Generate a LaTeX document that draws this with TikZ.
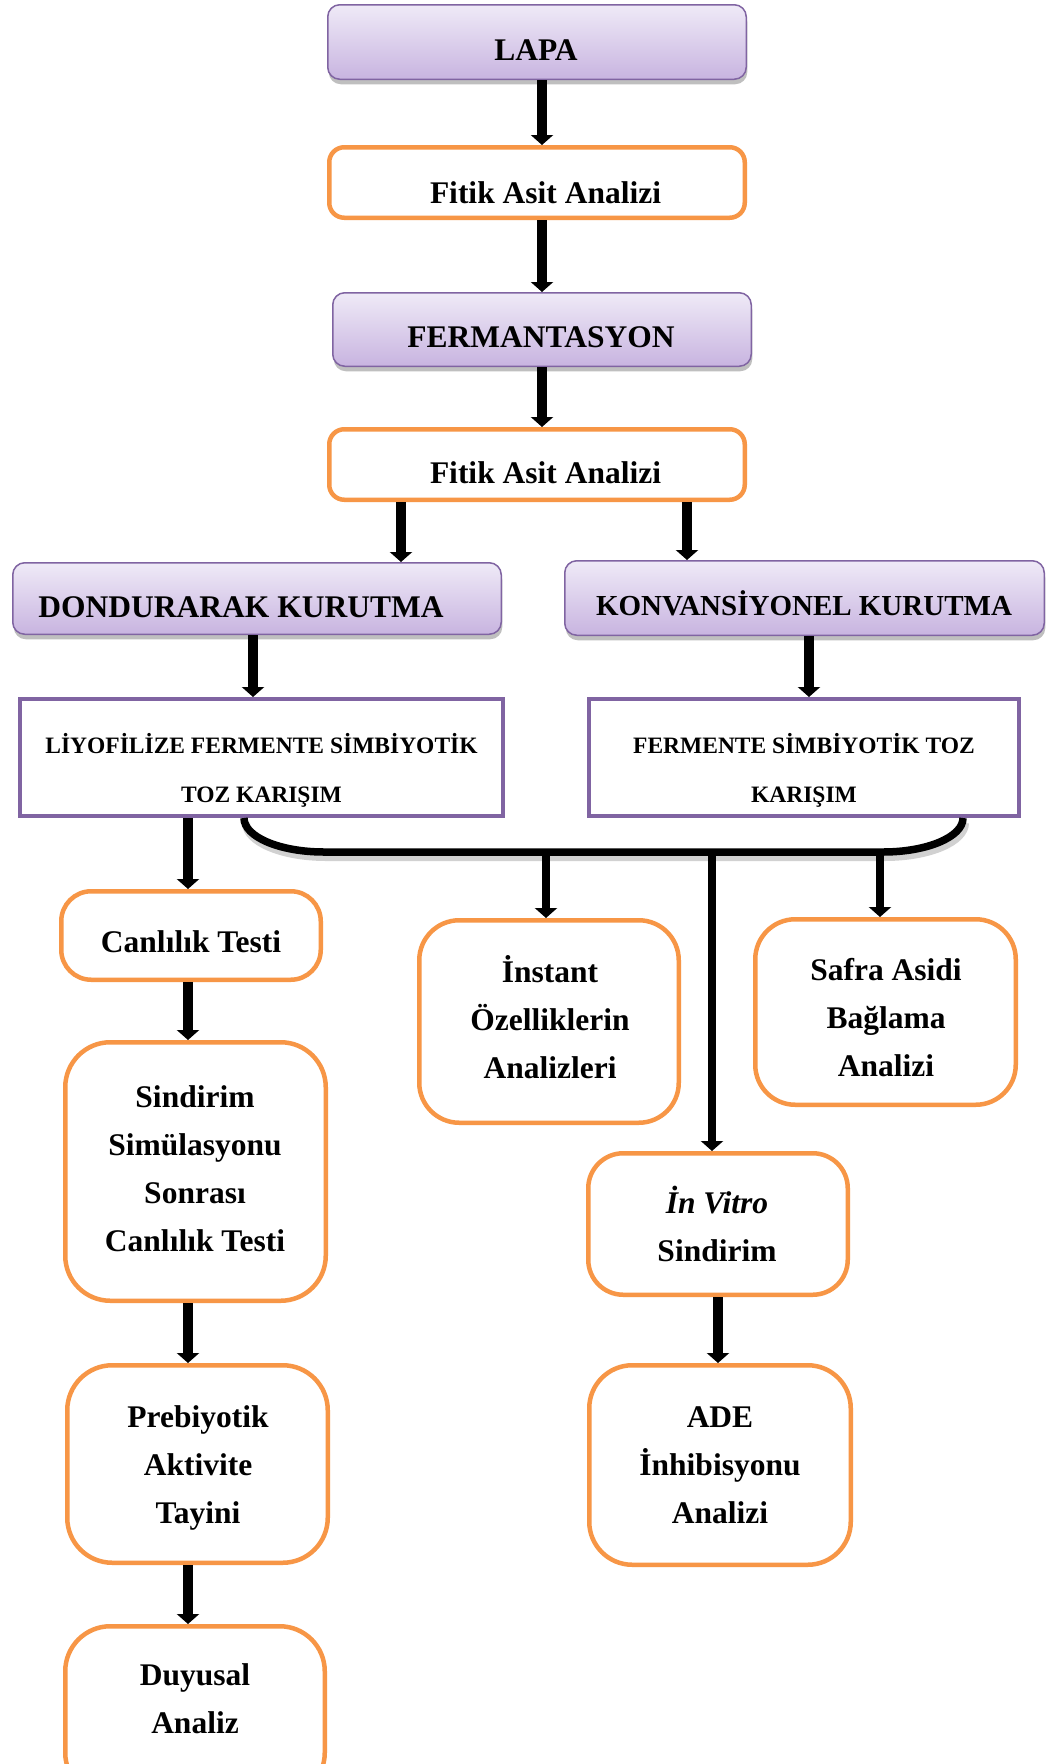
\documentclass[tikz,border=0pt]{standalone}
\usepackage{fontspec}
\setmainfont{Liberation Serif}
\usetikzlibrary{arrows.meta,shadows}
\definecolor{orng}{HTML}{F79646}
\definecolor{purp}{HTML}{8064A2}
\definecolor{ptop}{HTML}{EFEAF7}
\definecolor{pbot}{HTML}{C8B4E0}
\begin{document}
\begin{tikzpicture}[x=1pt,y=-1pt,
  pbox/.style={draw=purp, line width=1.5pt, rounded corners=12pt, top color=ptop, bottom color=pbot,
    drop shadow={shadow xshift=1pt, shadow yshift=-5pt, opacity=0.25, fill=black},
    inner sep=0pt, minimum width=#1},
  rbox/.style={draw=purp, line width=4pt, fill=white, inner sep=0pt, minimum height=117pt},
  obox/.style={draw=orng, line width=4.5pt, fill=white, inner sep=0pt},
  txt/.style={font=\bfseries\fontsize{31.5}{48}\selectfont, align=center, inner sep=0pt, anchor=base},
  stxt/.style={font=\bfseries\fontsize{23.5}{49}\selectfont, align=center, inner sep=0pt, anchor=base},
  arr/.style={line width=9.5pt, -{Triangle[width=22pt,length=10pt]}},
  brc/.style={line width=7.5pt},
  bshadow/.style={line width=8pt, draw=black, opacity=0.18}
]
\clip (0,0) rectangle (1050,1764);
\fill[white] (0,0) rectangle (1050,1764);

% purple rounded boxes
\node[pbox=418.5pt, minimum height=74.5pt] (lapa) at (537,42) {};
\node[pbox=418.5pt, minimum height=73.5pt] (ferm) at (542,329.5) {};
\node[pbox=488.5pt, minimum height=71.5pt] (dond) at (257,598.5) {};
\node[pbox=479.5pt, minimum height=74.5pt] (konv) at (804.5,598) {};

% purple rectangles
\node[rbox, minimum width=483pt] (liyo) at (261.5,757.5) {};
\node[rbox, minimum width=430pt] (ferm2) at (804,757.5) {};

% orange boxes
\node[obox, rounded corners=15pt, minimum width=415.5pt, minimum height=70.5pt] (fit1) at (537,182.5) {};
\node[obox, rounded corners=15pt, minimum width=415.5pt, minimum height=70.5pt] (fit2) at (537,464.5) {};
\node[obox, rounded corners=30pt, minimum width=259.5pt, minimum height=88.5pt] (canl) at (191,935.5) {};
\node[obox, rounded corners=45pt, minimum width=260.5pt, minimum height=258.5pt] (sind) at (195.5,1171.5) {};
\node[obox, rounded corners=45pt, minimum width=260.5pt, minimum height=197.5pt] (preb) at (197.5,1464) {};
\node[obox, rounded corners=45pt, minimum width=259.5pt, minimum height=171.5pt] (duy) at (195,1712) {};
\node[obox, rounded corners=40pt, minimum width=259.5pt, minimum height=202.5pt] (inst) at (549,1021.5) {};
\node[obox, rounded corners=40pt, minimum width=260.5pt, minimum height=185.5pt] (safra) at (885.5,1012) {};
\node[obox, rounded corners=35pt, minimum width=259.5pt, minimum height=141.5pt] (invit) at (718,1224) {};
\node[obox, rounded corners=43pt, minimum width=261.5pt, minimum height=199.5pt] (ade) at (720,1465) {};

% texts (multi-line nodes anchored at the baseline of their last line)
\node[txt] (tlapa) at (536,60) {LAPA};
\node[txt] (tfit1) at (545.5,203) {Fitik Asit Analizi};
\node[txt] (tferm) at (541,347) {FERMANTASYON};
\node[txt] (tfit2) at (545.5,483) {Fitik Asit Analizi};
\node[txt] (tdond) at (241,617) {DONDURARAK KURUTMA};
\node[txt, font=\bfseries\fontsize{29}{40}\selectfont] (tkonv) at (804,615) {KONVANSİYONEL KURUTMA};
\node[stxt] (tliyo) at (261.5,802) {LİYOFİLİZE FERMENTE SİMBİYOTİK\\TOZ KARIŞIM};
\node[stxt] (tferm2) at (804,802) {FERMENTE SİMBİYOTİK TOZ\\KARIŞIM};
\node[txt] (tcanl) at (191,952) {Canlılık Testi};
\node[txt] (tsind) at (195,1251) {Sindirim\\Simülasyonu\\Sonrası\\Canlılık Testi};
\node[txt] (tpreb) at (198,1523) {Prebiyotik\\Aktivite\\Tayini};
\node[txt] (tduy) at (195,1733) {Duyusal\\Analiz};
\node[txt] (tinst) at (550,1078) {İnstant\\Özelliklerin\\Analizleri};
\node[txt] (tsafra) at (886,1076) {Safra Asidi\\Bağlama\\Analizi};
\node[txt] (tinv) at (717,1261) {\textit{İn Vitro}\\Sindirim};
\node[txt] (tade) at (720,1523) {ADE\\İnhibisyonu\\Analizi};

% brace
\coordinate (bl) at (244,818);
\coordinate (br) at (963,818);
\coordinate (b1) at (546,852);
\coordinate (b2) at (712,852);
\coordinate (b3) at (880,852);
\draw[bshadow] (246,823) .. controls (246,842) and (282,857) .. (326,857) -- (885,857) .. controls (929,857) and (965,842) .. (965,823);
\draw[brc] (bl) .. controls (244,837) and (280,852) .. (324,852) -- (883,852) .. controls (927,852) and (963,837) .. (br);

% arrows
\draw[arr] ([xshift=5pt]lapa.south) -- ([xshift=5pt]fit1.north);
\draw[arr] ([xshift=5pt]fit1.south) -- (ferm.north);
\draw[arr] (ferm.south) -- ([xshift=5pt]fit2.north);
\draw[arr] ([xshift=-136pt]fit2.south) -- ([xshift=144pt]dond.north);
\draw[arr] ([xshift=150pt]fit2.south) -- ([xshift=-117.5pt]konv.north);
\draw[arr] ([xshift=-4pt]dond.south) -- ([xshift=-8.5pt]liyo.north);
\draw[arr] ([xshift=4.5pt]konv.south) -- ([xshift=5pt]ferm2.north);
\draw[arr] ([xshift=-73.5pt]liyo.south) -- ([xshift=-3pt]canl.north);
\draw[arr] ([xshift=-3pt]canl.south) -- ([xshift=-7.5pt]sind.north);
\draw[arr] ([xshift=-7.5pt]sind.south) -- ([xshift=-9.5pt]preb.north);
\draw[arr] ([xshift=-9.5pt]preb.south) -- ([xshift=-7pt]duy.north);
\draw[arr, line width=8.5pt] (b1) -- ([xshift=-3pt]inst.north);
\draw[arr, line width=8.5pt] (b2) -- ([xshift=-6pt]invit.north);
\draw[arr, line width=8.5pt] (b3) -- ([xshift=-5.5pt]safra.north);
\draw[arr] (invit.south) -- ([xshift=-2pt]ade.north);
\end{tikzpicture}
\end{document}
